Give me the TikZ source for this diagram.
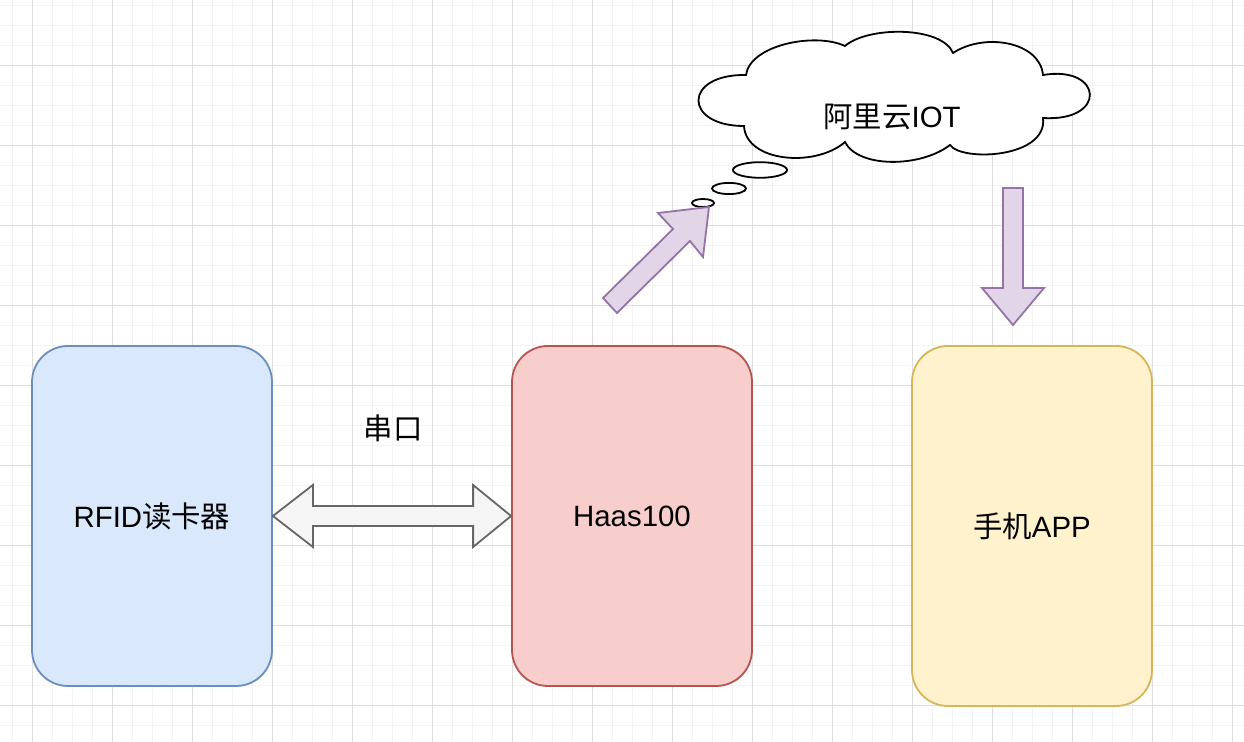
\documentclass[tikz,border=0pt]{standalone}
\usepackage{fontspec}
\setmainfont{Liberation Sans}
\newfontfamily\cjk{Noto Sans CJK SC}
\usetikzlibrary{calc}
\definecolor{bluefill}{HTML}{DAE8FC}\definecolor{bluedraw}{HTML}{6C8EBF}
\definecolor{redfill}{HTML}{F8CECC}\definecolor{reddraw}{HTML}{B85450}
\definecolor{yelfill}{HTML}{FFF2CC}\definecolor{yeldraw}{HTML}{D6B656}
\definecolor{purfill}{HTML}{E1D5E7}\definecolor{purdraw}{HTML}{9673A6}
\definecolor{grayfill}{HTML}{F5F5F5}\definecolor{graydraw}{HTML}{666666}
\definecolor{minorgrid}{HTML}{F3F3F3}\definecolor{majorgrid}{HTML}{DEDEDE}
\tikzset{
  txt/.style={font=\fontsize{14.7pt}{17pt}\selectfont, text=black},
  blockbox/.style={rounded corners=18pt, line width=0.9pt, minimum width=120pt, minimum height=170pt, inner sep=0pt, txt},
  purarrow/.style={fill=purfill, draw=purdraw, line width=0.9pt, line join=miter},
  dblarrow/.style={fill=grayfill, draw=graydraw, line width=0.9pt, line join=miter},
  cloudline/.style={fill=white, draw=black, line width=0.9pt},
}
\begin{document}
\begin{tikzpicture}[x=0.5pt,y=-0.5pt]
\useasboundingbox (0,0) rectangle (1244,742);
\fill[white] (0,0) rectangle (1244,742);
% grid
\foreach \x in {12,32,...,1240} \draw[minorgrid, line width=0.5pt] (\x,0) -- (\x,742);
\foreach \y in {6,26,...,740} \draw[minorgrid, line width=0.5pt] (0,\y) -- (1244,\y);
\foreach \x in {32,112,...,1240} \draw[majorgrid, line width=0.5pt] (\x,0) -- (\x,742);
\foreach \y in {66,146,...,740} \draw[majorgrid, line width=0.5pt] (0,\y) -- (1244,\y);

% boxes
\node[blockbox, fill=bluefill, draw=bluedraw] (rfid) at (152,516) {RFID{\cjk 读卡器}};
\node[blockbox, fill=redfill, draw=reddraw] (haas) at (632,516) {Haas100};
\node[blockbox, fill=yelfill, draw=yeldraw, minimum height=180pt] (app) at (1032,526) {{\cjk 手机}APP};

% double arrow (serial)
\draw[dblarrow] (rfid.east) -- ++(40,-31) -- ++(0,21) -- ($(haas.west)+(-38,-10)$) -- ++(0,-21)
  -- (haas.west) -- ++(-38,31) -- ++(0,-21) -- ($(rfid.east)+(40,10)$) -- ++(0,21) -- cycle;
\node[txt] (serial) at (393,428) {\cjk 串口};

% cloud
\draw[cloudline] (746,75) .. controls (750,45) and (815,32) .. (845,46)
  .. controls (868,26) and (942,26) .. (953,53)
  .. controls (985,32) and (1040,42) .. (1043,75)
  .. controls (1103,65) and (1108,122) .. (1043,118)
  .. controls (1048,158) and (962,162) .. (950,145)
  .. controls (920,168) and (858,168) .. (845,142)
  .. controls (815,168) and (746,162) .. (744,126)
  .. controls (683,126) and (683,74) .. (746,75) -- cycle;
\node[txt] (iot) at (892,117) {{\cjk 阿里云}IOT};
\draw[cloudline] (760,170) ellipse [x radius=13.5pt, y radius=3.9pt];
\draw[cloudline] (729,188.5) ellipse [x radius=8.5pt, y radius=2.8pt];
\draw[cloudline] (703,203) ellipse [x radius=5.5pt, y radius=2pt];

% up-right arrow to cloud
\draw[purarrow] (603,298) -- (673,229) -- (658,213) -- (709,207) -- (703,257) -- (690,241) -- (617,313) -- cycle;
% down arrow to app
\draw[purarrow] (1003,188) -- (1023,188) -- (1023,288) -- (1044,288) -- (1013,325) -- (982,288) -- (1003,288) -- cycle;
\end{tikzpicture}
\end{document}
